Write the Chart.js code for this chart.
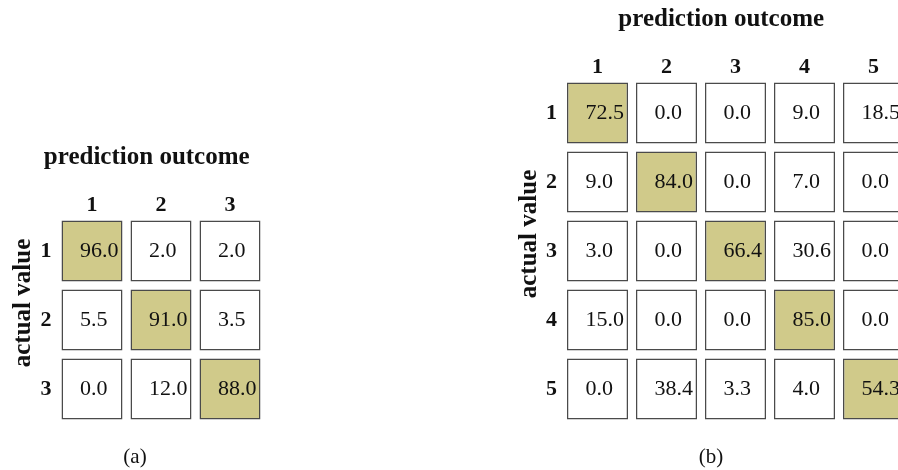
<!DOCTYPE html>
<html>
<head>
<meta charset="utf-8">
<script src="https://cdn.jsdelivr.net/npm/chart.js@4.4.1/dist/chart.umd.min.js"></script>
<style>
  html, body { margin: 0; padding: 0; background: #ffffff; }
  body { width: 898px; height: 470px; overflow: hidden; position: relative; }
  canvas { position: absolute; top: 0; }
  .cap {
    position: absolute; top: 444px; width: 100px; text-align: center;
    font: 21px "Liberation Serif", serif; line-height: 24px; color: #111111;
  }
</style>
</head>
<body>
<canvas id="cmA" width="300" height="470" style="left:0px"></canvas>
<canvas id="cmB" width="440" height="470" style="left:480px"></canvas>
<div class="cap" style="left:85px">(a)</div>
<div class="cap" style="left:661px">(b)</div>
<script>
// Confusion matrix (a): rows = actual class, columns = predicted class (%)
const classesA = ['1', '2', '3'];
const actualA1 = [96.0, 2.0, 2.0];
const actualA2 = [5.5, 91.0, 3.5];
const actualA3 = [0.0, 12.0, 88.0];

// Confusion matrix (b): five classes
const classesB = ['1', '2', '3', '4', '5'];
const actualB1 = [72.5, 0.0, 0.0, 9.0, 18.5];
const actualB2 = [9.0, 84.0, 0.0, 7.0, 0.0];
const actualB3 = [3.0, 0.0, 66.4, 30.6, 0.0];
const actualB4 = [15.0, 0.0, 0.0, 85.0, 0.0];
const actualB5 = [0.0, 38.4, 3.3, 4.0, 54.3];

const xTitle = 'prediction outcome';
const yTitle = 'actual value';

const FONT = '"Liberation Serif", "Times New Roman", serif';
const INK = '#111111';
const DIAG = '#d0ca8a';
const EDGE = '#4a4a4a';

// Writes the cell values and the two header titles around the grid
const matrixText = {
  id: 'matrixText',
  afterDatasetsDraw(chart) {
    const ctx = chart.ctx;
    ctx.save();
    ctx.font = '22px ' + FONT;
    ctx.fillStyle = INK;
    ctx.textAlign = 'left';
    ctx.textBaseline = 'middle';
    chart.data.datasets.forEach((ds, i) => {
      chart.getDatasetMeta(i).data.forEach((bar, j) => {
        const p = bar.getProps(['x', 'y', 'base', 'width'], true);
        const left = p.x - p.width / 2;
        ctx.fillText(ds.values[j].toFixed(1), left + 18.5, (p.y + p.base) / 2);
      });
    });
    ctx.restore();
  },
  afterDraw(chart) {
    const ctx = chart.ctx;
    const a = chart.chartArea;
    ctx.save();
    ctx.font = 'bold 25px ' + FONT;
    ctx.fillStyle = INK;
    ctx.textAlign = 'center';
    ctx.textBaseline = 'alphabetic';
    // column header spans the row-label column plus the grid
    ctx.fillText(xTitle, ((a.left - 24.5) + (a.right - 4)) / 2, a.top - 52.5);
    ctx.translate(a.left - 27.5, (a.top + a.bottom) / 2 - 17);
    ctx.rotate(-Math.PI / 2);
    ctx.fillText(yTitle, 0, 0);
    ctx.restore();
  }
};

function buildMatrix(canvasId, classes, rows, axisWidth, pad) {
  const half = 0.442; // half cell height in row units, leaves a thin gap
  const datasets = rows.map((row, i) => ({
    label: 'actual ' + classes[i],
    data: row.map(() => [i + 1 - half, i + 1 + half]),
    values: row,
    backgroundColor: row.map((v, j) => (j === i ? DIAG : '#ffffff')),
    borderColor: EDGE,
    borderWidth: 1.5,
    borderSkipped: false,
    grouped: false,
    categoryPercentage: 1,
    barPercentage: 0.884
  }));
  const tickFont = { family: FONT, size: 22, weight: 'bold', lineHeight: 1 };
  return new Chart(document.getElementById(canvasId), {
    type: 'bar',
    data: { labels: classes, datasets },
    options: {
      responsive: false,
      devicePixelRatio: 1,
      animation: false,
      layout: { padding: pad },
      plugins: { legend: { display: false }, tooltip: { enabled: false }, title: { display: false } },
      scales: {
        x: {
          type: 'category',
          position: 'top',
          offset: true,
          grid: { display: false, drawTicks: false },
          border: { display: false },
          ticks: { font: tickFont, color: INK, padding: 0 },
          afterFit: (s) => { s.height = 40; }
        },
        y: {
          type: 'linear',
          reverse: true,
          min: 0.5,
          max: classes.length + 0.5,
          grid: { display: false, drawTicks: false },
          border: { display: false },
          afterBuildTicks: (s) => { s.ticks = classes.map((c, i) => ({ value: i + 1 })); },
          ticks: { font: tickFont, color: INK, padding: 6, callback: (v) => classes[v - 1] },
          afterFit: (s) => { s.width = axisWidth; }
        }
      }
    },
    plugins: [matrixText]
  });
}

buildMatrix('cmA', classesA, [actualA1, actualA2, actualA3], 57.5,
  { left: 0, right: 35.5, top: 176.5, bottom: 46.5 });
buildMatrix('cmB', classesB, [actualB1, actualB2, actualB3, actualB4, actualB5], 83,
  { left: 0, right: 12, top: 38.5, bottom: 46.5 });
</script>
</body>
</html>
